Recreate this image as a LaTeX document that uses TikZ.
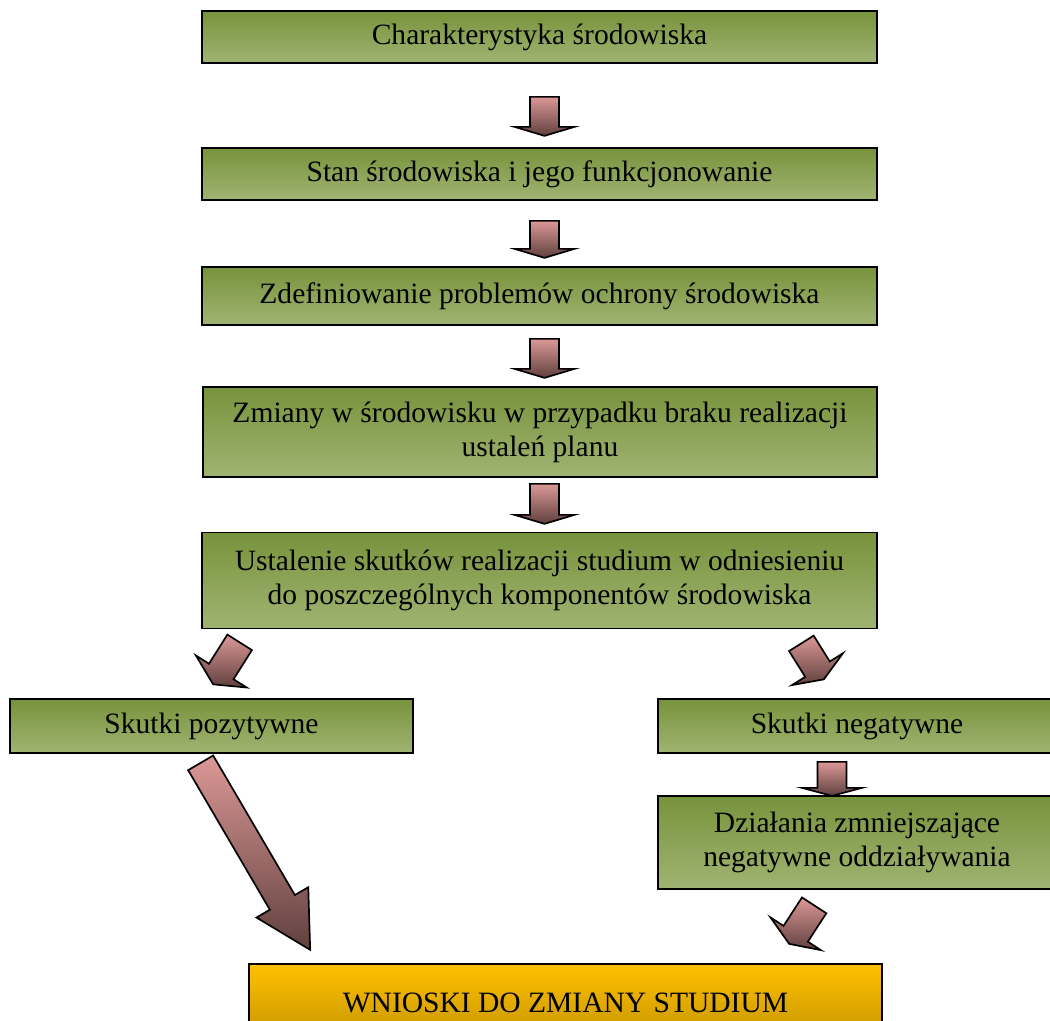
\documentclass[tikz,border=0pt]{standalone}
\usepackage{fontspec}
\setmainfont{Liberation Serif}
\usetikzlibrary{calc}

\definecolor{gtop}{RGB}{119,147,60}
\definecolor{gbot}{RGB}{160,180,114}
\definecolor{ptop}{RGB}{219,152,150}
\definecolor{pbot}{RGB}{96,64,62}
\definecolor{otop}{RGB}{255,192,0}
\definecolor{obot}{RGB}{196,148,0}

\def\px{0.025cm}

\tikzset{
  greenbox/.style={draw=black, line width=1.2pt, top color=gtop, bottom color=gbot,
    inner sep=0pt, align=center, font=\fontsize{21}{24.2}\selectfont},
  orangebox/.style={greenbox, top color=otop, bottom color=obot},
  blockarrow/.style={draw=black, line width=1.2pt, line join=miter, top color=ptop, bottom color=pbot}
}

% fat arrow: tail, tip, head length
\newcommand{\fatarrow}[3]{%
  \coordinate (fa-b) at ($(#2)!#3!(#1)$);
  \draw[blockarrow] ($(#1)!0.3625cm!90:(#2)$) -- ($(fa-b)!0.3625cm!90:(#2)$)
    -- ($(fa-b)!0.75cm!90:(#2)$) -- (#2) -- ($(fa-b)!0.75cm!-90:(#2)$)
    -- ($(fa-b)!0.3625cm!-90:(#2)$) -- ($(#1)!0.3625cm!-90:(#2)$) -- cycle;
}

\begin{document}
\begin{tikzpicture}[x=0.025cm, y=-0.025cm]
  \useasboundingbox (0,0) rectangle (1050,1020);
  \clip (0,0) rectangle (1050,1020);

  % main column
  \node at (539.5,37) [greenbox, minimum width=675*\px, minimum height=52*\px] (char) {Charakterystyka środowiska};
  \node at (539.5,174) [greenbox, minimum width=675*\px, minimum height=52*\px] (stan) {Stan środowiska i jego funkcjonowanie};
  \node at (539.5,296) [greenbox, minimum width=675*\px, minimum height=58*\px] (probl) {Zdefiniowanie problemów ochrony środowiska};
  \node at (540,432) [greenbox, minimum width=674*\px, minimum height=90*\px] (zmiany) {Zmiany w środowisku w przypadku braku realizacji\\ustaleń planu};
  \node at (539.5,580.5) [greenbox, minimum width=675*\px, minimum height=96*\px] (skutki) {Ustalenie skutków realizacji studium w odniesieniu\\do poszczególnych komponentów środowiska};

  % two branches
  \node at (211.5,726) [greenbox, minimum width=403*\px, minimum height=54*\px] (pozyt) {Skutki pozytywne};
  \node at (857,726) [greenbox, minimum width=398*\px, minimum height=54*\px] (negat) {Skutki negatywne};
  \node at (857,842.5) [greenbox, minimum width=398*\px, minimum height=93*\px] (dzial) {Działania zmniejszające\\negatywne oddziaływania};

  \node at (565.5,1003) [orangebox, minimum width=633*\px, minimum height=78*\px] (wnioski) {WNIOSKI DO ZMIANY STUDIUM};

  % arrow ends
  \coordinate (a1t) at ($(char.south)+(5,33)$);
  \coordinate (a1p) at ($(char.south)+(5,72)$);
  \coordinate (a2t) at ($(stan.south)+(5,20)$);
  \coordinate (a2p) at ($(stan.south)+(5,57)$);
  \coordinate (a3t) at ($(probl.south)+(5,13)$);
  \coordinate (a3p) at ($(probl.south)+(5,52)$);
  \coordinate (a4t) at ($(zmiany.south)+(4.5,6)$);
  \coordinate (a4p) at ($(zmiany.south)+(4.5,46)$);
  \coordinate (a5t) at ($(skutki.south west)+(38.5,13)$);
  \coordinate (a5p) at ($(skutki.south west)+(12,55)$);
  \coordinate (a6t) at ($(skutki.south east)+(-76.5,14)$);
  \coordinate (a6p) at ($(skutki.south east)+(-54,50)$);
  \coordinate (a7t) at ($(negat.south)+(-25,8)$);
  \coordinate (a7p) at ($(negat.south)+(-25,42)$);
  \coordinate (a8t) at ($(dzial.south west)+(157,15.5)$);
  \coordinate (a8p) at ($(dzial.south west)+(132,54)$);
  \coordinate (a9t) at ($(pozyt.south west)+(191.5,9)$);
  \coordinate (a9p) at ($(pozyt.south west)+(301,196)$);

  \fatarrow{a1t}{a1p}{0.225cm}
  \fatarrow{a2t}{a2p}{0.225cm}
  \fatarrow{a3t}{a3p}{0.225cm}
  \fatarrow{a4t}{a4p}{0.225cm}
  \fatarrow{a5t}{a5p}{0.38cm}
  \fatarrow{a6t}{a6p}{0.3cm}
  \fatarrow{a7t}{a7p}{0.2cm}
  \fatarrow{a8t}{a8p}{0.3cm}
  \fatarrow{a9t}{a9p}{1.375cm}
\end{tikzpicture}
\end{document}
